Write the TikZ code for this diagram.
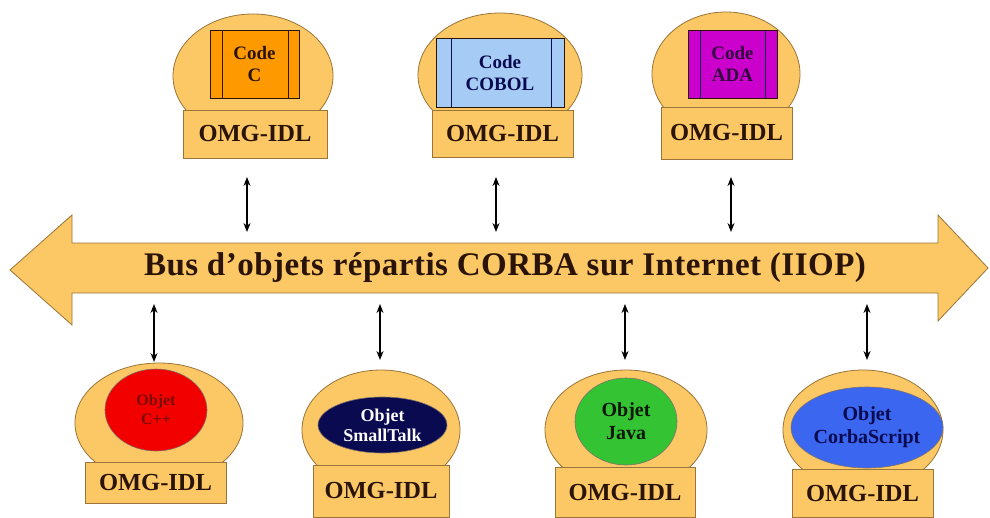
\documentclass[tikz,border=0pt]{standalone}
\usepackage{fontspec}
\setmainfont{Liberation Serif}
\usetikzlibrary{shapes.geometric,arrows.meta}
\definecolor{bodyfill}{HTML}{FCC865}
\definecolor{bodyline}{HTML}{9A7438}
\definecolor{codeC}{HTML}{FF9900}
\definecolor{codeCOBOL}{HTML}{A6CCF5}
\definecolor{codeADA}{HTML}{CC00CC}
\definecolor{objCpp}{HTML}{F20000}
\definecolor{objST}{HTML}{0A0A50}
\definecolor{objJava}{HTML}{33C333}
\definecolor{objCS}{HTML}{3A66F0}
\definecolor{txtdark}{HTML}{2A1408}
\tikzset{
  dome/.style={ellipse,draw=bodyline,fill=bodyfill,line width=0.8pt,inner sep=0pt},
  idlbox/.style={rectangle,draw=bodyline,fill=bodyfill,line width=0.8pt,inner sep=0pt,
    font=\fontsize{24.5}{27}\selectfont\bfseries,text=txtdark},
  codebox/.style={rectangle,draw=txtdark,line width=0.6pt,inner sep=0pt,align=center,
    font=\fontsize{19}{22}\selectfont\bfseries},
  objell/.style={ellipse,draw=txtdark!60,line width=0.6pt,inner sep=0pt,align=center},
  link/.style={{Stealth[length=9pt,width=7pt]}-{Stealth[length=9pt,width=7pt]},line width=1.3pt,black},
  busarrow/.style={draw=bodyline,fill=bodyfill,line width=0.8pt,line join=miter}
}
\begin{document}
\begin{tikzpicture}[x=1pt,y=-1pt]
\useasboundingbox (0,0) rectangle (990,517);
\fill[white] (0,0) rectangle (990,517);

% ---- top components ----
\node[dome,minimum width=160,minimum height=124] (dC) at (253,76) {};
\node[idlbox,minimum width=144,minimum height=48] (iC) at (255,134) {OMG-IDL};
\node[codebox,fill=codeC,minimum width=89,minimum height=68,text=txtdark] (cC) at (254.5,64) {Code\\C};
\draw[txtdark,line width=0.8pt] (222,30) -- (222,98) (288,30) -- (288,98);

\node[dome,minimum width=164,minimum height=124] (dCOBOL) at (500,75) {};
\node[idlbox,minimum width=141,minimum height=47] (iCOBOL) at (502.5,133.5) {OMG-IDL};
\node[codebox,fill=codeCOBOL,minimum width=128,minimum height=69,text=objST] (cCOBOL) at (500,72.5) {Code\\COBOL};
\draw[objST,line width=0.8pt] (451,38) -- (451,107) (551,38) -- (551,107);

\node[dome,minimum width=148,minimum height=124] (dADA) at (726,74) {};
\node[idlbox,minimum width=131,minimum height=52] (iADA) at (726.5,133) {OMG-IDL};
\node[codebox,fill=codeADA,minimum width=89,minimum height=68,text=objST!40!codeADA!40!black] (cADA) at (732.5,64) {Code\\ADA};
\draw[objST,line width=0.8pt] (700,30) -- (700,98) (765,30) -- (765,98);

% ---- bus ----
\path[busarrow] (10,270) -- (72,215) -- (72,243) -- (938,243) -- (938,215) -- (988,268)
  -- (938,321) -- (938,293) -- (72,293) -- (72,325) -- cycle;
\node[inner sep=0pt,font=\fontsize{33}{36}\selectfont\bfseries,text=txtdark] (bustext) at (505,268)
  {\addfontfeature{LetterSpace=1.5}Bus d’objets répartis CORBA sur Internet (IIOP)};

% ---- bottom components ----
\node[dome,minimum width=168,minimum height=120] (dCpp) at (159,423) {};
\node[idlbox,minimum width=141,minimum height=41] (iCpp) at (155.5,482.5) {OMG-IDL};
\node[objell,fill=objCpp,minimum width=102,minimum height=82,text=txtdark!60!objCpp,
  font=\fontsize{16}{19}\selectfont\bfseries] (oCpp) at (156,410) {Objet\\C++};

\node[dome,minimum width=158,minimum height=120] (dST) at (381,430) {};
\node[idlbox,minimum width=136,minimum height=52] (iST) at (381,491) {OMG-IDL};
\node[objell,fill=objST,minimum width=129,minimum height=56,text=white,
  font=\fontsize{18}{20}\selectfont\bfseries] (oST) at (382.5,425) {Objet\\SmallTalk};

\node[dome,minimum width=162,minimum height=120] (dJava) at (626,430) {};
\node[idlbox,minimum width=140,minimum height=50] (iJava) at (625,492) {OMG-IDL};
\node[objell,fill=objJava,minimum width=102,minimum height=87,text=txtdark!70!objJava!30!black,
  font=\fontsize{20}{23}\selectfont\bfseries] (oJava) at (626,421.5) {Objet\\Java};

\node[dome,minimum width=160,minimum height=120] (dCS) at (863,430) {};
\node[idlbox,minimum width=141,minimum height=48] (iCS) at (862.5,493) {OMG-IDL};
\node[objell,fill=objCS,minimum width=152,minimum height=81,text=objST,
  font=\fontsize{20}{23}\selectfont\bfseries] (oCS) at (867,427.5) {Objet\\CorbaScript};

% ---- connectors ----
\coordinate (tC1) at (247,177);   \coordinate (tC2) at (247,232);
\coordinate (tB1) at (496,177);   \coordinate (tB2) at (496,232);
\coordinate (tA1) at (731,177);   \coordinate (tA2) at (731,232);
\coordinate (bC1) at (154,304);   \coordinate (bC2) at (154,362);
\coordinate (bS1) at (380,304);   \coordinate (bS2) at (380,360);
\coordinate (bJ1) at (625,304);   \coordinate (bJ2) at (625,360);
\coordinate (bX1) at (867,304);   \coordinate (bX2) at (867,360);
\draw[link] (tC1) -- (tC2);
\draw[link] (tB1) -- (tB2);
\draw[link] (tA1) -- (tA2);
\draw[link] (bC1) -- (bC2);
\draw[link] (bS1) -- (bS2);
\draw[link] (bJ1) -- (bJ2);
\draw[link] (bX1) -- (bX2);
\end{tikzpicture}
\end{document}
